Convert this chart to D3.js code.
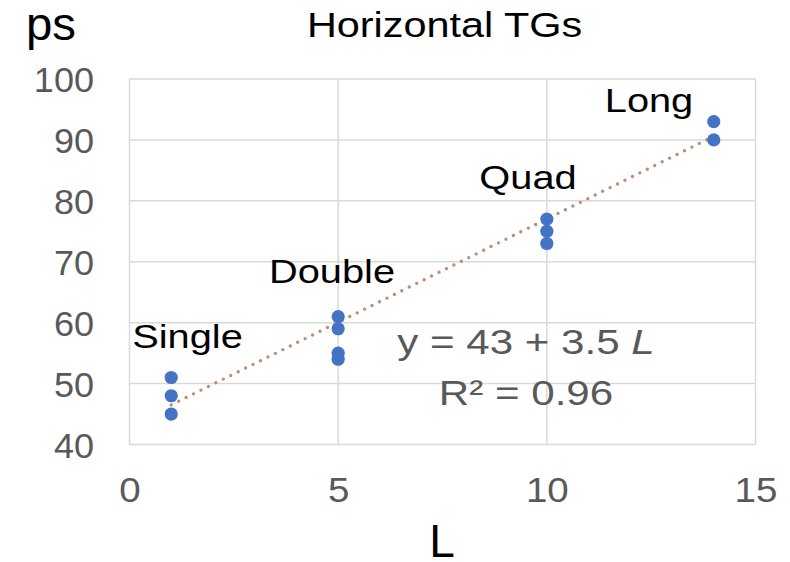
<!DOCTYPE html>
<html>
<head>
<meta charset="utf-8">
<script src="https://cdn.jsdelivr.net/npm/d3@7"></script>
<style>
  body { margin: 0; background: #fff; }
  svg { display: block; font-family: "Liberation Sans", Arial, sans-serif; }
</style>
</head>
<body>
<div id="chart"></div>
<script>
// data
var xValues = [1, 1, 1, 5, 5, 5, 5, 10, 10, 10, 14, 14];
var yValues = [51, 48, 45, 61, 59, 55, 54, 77, 75, 73, 93, 90];
var groupNames = ["Single", "Double", "Quad", "Long"];
var trendX = [1, 14];
var trendY = [46.5, 90.6];
var xTicks = [0, 5, 10, 15];
var yTicks = [40, 50, 60, 70, 80, 90, 100];

var width = 790, height = 562;
var stretch = 1.17; // the text in the original is a bit wide

var svg = d3.select("#chart").append("svg")
  .attr("width", width)
  .attr("height", height);

var x = d3.scaleLinear().domain([0, 15]).range([129.5, 755.5]);
var y = d3.scaleLinear().domain([40, 100]).range([444.5, 79]);

// helper for stretched text
function label(txt, px, py, size, anchor, fill, sx) {
  return svg.append("text")
    .attr("transform", "translate(" + px + "," + py + ") scale(" + (sx || stretch) + ",1)")
    .attr("text-anchor", anchor)
    .attr("font-size", size)
    .attr("fill", fill)
    .text(txt);
}

// grid
var grid = svg.append("g").attr("stroke", "#d9d9d9").attr("stroke-width", 1.5);
grid.selectAll(".h").data(yTicks).enter().append("line")
  .attr("x1", x(0)).attr("x2", x(15))
  .attr("y1", function(d) { return y(d); })
  .attr("y2", function(d) { return y(d); });
grid.selectAll(".v").data(xTicks).enter().append("line")
  .attr("y1", y(40)).attr("y2", y(100))
  .attr("x1", function(d) { return x(d); })
  .attr("x2", function(d) { return x(d); });

// axes as tick labels only
var yAxis = d3.axisLeft(y).tickValues(yTicks).tickSize(0).tickPadding(0);
var gy = svg.append("g").attr("transform", "translate(94,0)").call(yAxis);
gy.select(".domain").remove();
gy.selectAll("text")
  .attr("font-size", 35)
  .attr("fill", "#595959")
  .attr("font-family", "Liberation Sans, Arial, sans-serif")
  .attr("dy", "0.36em")
  .attr("transform", "scale(1.03,1)")
  .attr("x", 0);

var xAxis = d3.axisBottom(x).tickValues(xTicks).tickSize(0).tickPadding(0);
var gx = svg.append("g").attr("transform", "translate(0,502)").call(xAxis);
gx.select(".domain").remove();
gx.selectAll("text")
  .attr("font-size", 35)
  .attr("fill", "#595959")
  .attr("font-family", "Liberation Sans, Arial, sans-serif")
  .attr("dy", 0)
  .attr("y", 0)
  .attr("transform", "scale(1.1,1)");

// trend line
svg.append("path")
  .datum(d3.zip(trendX, trendY))
  .attr("fill", "none")
  .attr("stroke", "#c38b70")
  .attr("stroke-width", 3.4)
  .attr("stroke-linecap", "round")
  .attr("stroke-dasharray", "0,8.3")
  .attr("d", d3.line().x(function(d) { return x(d[0]); }).y(function(d) { return y(d[1]); }));

// points
svg.selectAll(".pt").data(d3.zip(xValues, yValues)).enter().append("circle")
  .attr("cx", function(d) { return x(d[0]); })
  .attr("cy", function(d) { return y(d[1]); })
  .attr("r", 6.6)
  .attr("fill", "#4472c4");

// group labels
var labelPos = [[187.5, 348], [332, 283], [528, 189], [649, 112]];
groupNames.forEach(function(n, i) {
  label(n, labelPos[i][0], labelPos[i][1], 34, "middle", "#000");
});

// equation
var eq = label("", 526, 354, 36, "middle", "#595959");
eq.append("tspan").text("y = 43 + 3.5 ");
eq.append("tspan").attr("font-style", "italic").text("L");
label("R\u00b2 = 0.96", 526, 405, 36, "middle", "#595959");

// titles
label("Horizontal TGs", 444.5, 37, 34.5, "middle", "#000", 1.2);
label("ps", 26, 40, 46, "start", "#000", 1.03);
label("L", 442, 557, 46, "middle", "#000", 1);
</script>
</body>
</html>
